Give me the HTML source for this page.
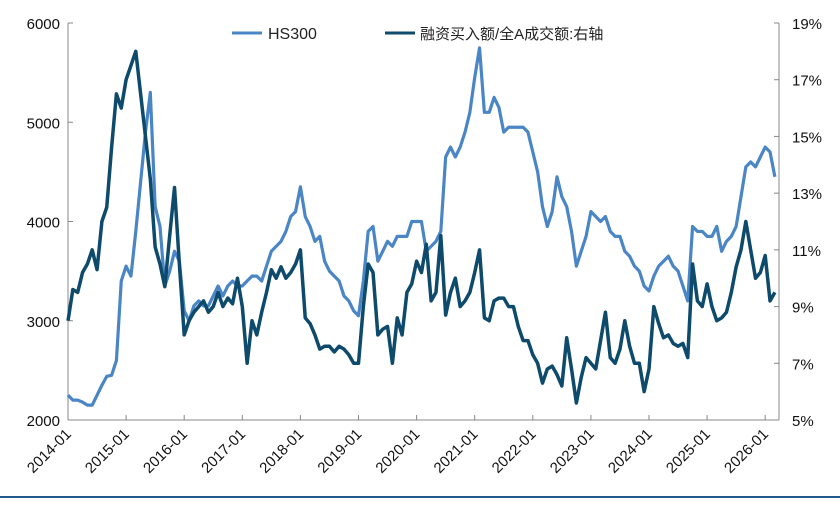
<!DOCTYPE html>
<html><head><meta charset="utf-8"><style>
body{margin:0;background:#fff;width:840px;height:500px;overflow:hidden}
svg text{font-family:"Liberation Sans","Noto Sans CJK SC",sans-serif}
</style></head><body>
<svg id="chart" width="840" height="500">
<line x1="0" y1="497" x2="840" y2="497" stroke="#1f5a8a" stroke-width="2"/>
<g id="axes"></g><g id="series"></g>
<g>
<line x1="232" y1="33" x2="262" y2="33" stroke="#4a86c5" stroke-width="3"/>
<text x="268" y="39" font-size="16" fill="#222">HS300</text>
<line x1="385" y1="33" x2="415" y2="33" stroke="#0d4a6b" stroke-width="3"/>
<text x="420" y="39" font-size="15" fill="#222">融资买入额/全A成交额:右轴</text>
</g>
</svg>
<script>
const years=["2014-01","2015-01","2016-01","2017-01","2018-01","2019-01","2020-01","2021-01","2022-01","2023-01","2024-01","2025-01","2026-01"];
const leftTicks=[2000,3000,4000,5000,6000];
const rightTicks=[5,7,9,11,13,15,17,19];
const hs300=[2250,2200,2200,2180,2150,2150,2250,2350,2440,2450,2600,3400,
3550,3450,3900,4400,4900,5300,4150,3950,3350,3500,3700,3600,
3100,3000,3150,3200,3150,3150,3250,3350,3250,3350,3400,3350,
3350,3400,3450,3450,3400,3550,3700,3750,3800,3900,4050,4100,
4350,4050,3950,3800,3850,3600,3500,3450,3400,3250,3200,3100,
3050,3400,3900,3950,3600,3700,3800,3750,3850,3850,3850,4000,
4000,4000,3700,3750,3800,3900,4650,4750,4650,4750,4900,5100,
5450,5750,5100,5100,5250,5150,4900,4950,4950,4950,4950,4900,
4700,4500,4150,3950,4100,4450,4250,4150,3900,3550,3700,3850,
4100,4050,4000,4050,3900,3850,3850,3700,3650,3550,3500,3350,
3300,3450,3550,3600,3650,3550,3500,3350,3200,3950,3900,3900,
3850,3850,3950,3700,3800,3850,3950,4250,4550,4600,4550,4650,
4750,4700,4450];
const marginRatio=[8.5,9.6,9.5,10.2,10.5,11.0,10.3,12.0,12.5,14.6,16.5,16.0,
17.0,17.5,18.0,16.5,15.0,13.5,11.1,10.5,9.7,11.5,13.2,10.5,
8.0,8.5,8.8,9.0,9.2,8.8,9.0,9.5,9.0,9.3,9.1,10.0,
9.0,7.0,8.5,8.0,8.8,9.5,10.3,10.0,10.4,10.0,10.2,10.5,
11.0,8.6,8.4,8.0,7.5,7.6,7.6,7.4,7.6,7.5,7.3,7.0,
7.0,9.0,10.5,10.2,8.0,8.2,8.3,7.0,8.6,8.0,9.5,9.8,
10.6,10.2,11.2,9.2,9.5,11.5,8.7,9.5,10.0,9.0,9.2,9.5,
10.2,11.0,8.6,8.5,9.2,9.3,9.3,9.0,9.0,8.3,7.8,7.8,
7.3,7.0,6.3,6.8,6.9,6.6,6.2,7.9,6.8,5.6,6.5,7.2,
7.0,6.8,7.8,8.8,7.2,7.0,7.5,8.5,7.6,7.0,7.0,6.0,
6.8,9.0,8.4,7.9,8.0,7.7,7.6,7.7,7.2,10.5,9.2,9.0,
9.8,9.0,8.5,8.6,8.8,9.5,10.4,11.0,12.0,11.0,10.0,10.2,
10.8,9.2,9.5];
const NS="http://www.w3.org/2000/svg";
const X0=68,YW=58.1,YB=420,YT=23,XR=779;
const x=i=>X0+i/12*YW;
const yl=v=>YB-(v-2000)/4000*(YB-YT);
const yr=v=>YB-(v-5)/14*(YB-YT);
function mk(tag,attrs,parent){const e=document.createElementNS(NS,tag);for(const k in attrs)e.setAttribute(k,attrs[k]);parent.appendChild(e);return e;}
const ax=document.getElementById('axes'),se=document.getElementById('series');
let a=mk('line',{x1:X0,y1:YB,x2:XR,y2:YB,stroke:'#888'},ax);


a=mk('line',{x1:X0,y1:YT,x2:X0,y2:YB,stroke:'#888'},ax);


a=mk('line',{x1:XR,y1:YT,x2:XR,y2:YB,stroke:'#888'},ax);


years.forEach((l,i)=>{const xx=x(i*12);
const t=mk('line',{x1:xx,y1:YB,x2:xx,y2:YB-5,stroke:'#888'},ax);


const tx=mk('text',{x:xx+4,y:YB+15,'font-size':15,fill:'#111','text-anchor':'end',transform:`rotate(-45 ${xx+4} ${YB+15})`},ax);tx.textContent=l;

});
leftTicks.forEach(v=>{
const t=mk('line',{x1:X0,y1:yl(v),x2:X0+5,y2:yl(v),stroke:'#888'},ax);


const tx=mk('text',{x:X0-8,y:yl(v)+6,'font-size':15,fill:'#111','text-anchor':'end'},ax);tx.textContent=v;

});
rightTicks.forEach(v=>{
const t=mk('line',{x1:XR-5,y1:yr(v),x2:XR,y2:yr(v),stroke:'#888'},ax);


const tx=mk('text',{x:792,y:yr(v)+6,'font-size':15,fill:'#111'},ax);tx.textContent=v+'%';

});
let p=mk('polyline',{points:hs300.map((v,i)=>x(i)+','+yl(v)).join(' '),fill:'none',stroke:'#4a86c5','stroke-width':3.2,'stroke-linejoin':'round'},se);


p=mk('polyline',{points:marginRatio.map((v,i)=>x(i)+','+yr(v)).join(' '),fill:'none',stroke:'#0d4a6b','stroke-width':3.5,'stroke-linejoin':'round'},se);


</script>
</body></html>
